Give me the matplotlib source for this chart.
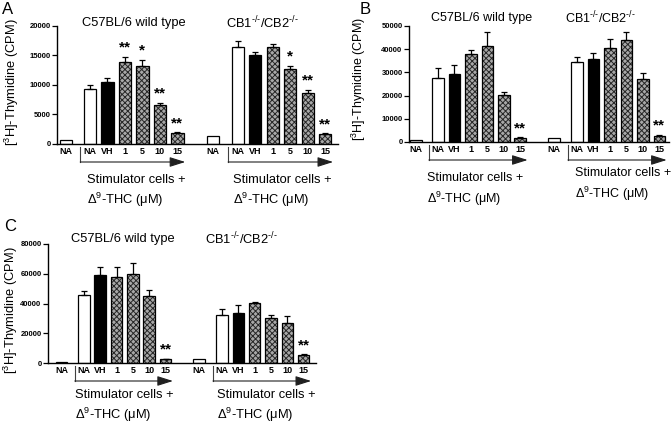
import matplotlib.pyplot as plt
import matplotlib.transforms as mtransforms
import numpy as np

plt.rcParams['font.family'] = 'Liberation Sans'
plt.rcParams['mathtext.fontset'] = 'custom'
plt.rcParams['mathtext.rm'] = 'Liberation Sans'
plt.rcParams['mathtext.it'] = 'Liberation Sans:italic'
plt.rcParams['mathtext.bf'] = 'Liberation Sans:bold'
plt.rcParams['hatch.linewidth'] = 0.7

# one group = unstimulated NA, then stimulator cells + NA, VH, 1, 5, 10, 15 uM THC
tick_labels = ['NA', 'NA', 'VH', '1', '5', '10', '15']
bar_kind = ['na', 'na', 'vh', 'thc', 'thc', 'thc', 'thc']

# panel A
a_wt = [700, 9250, 10500, 13850, 13250, 6600, 1800]
a_wt_err = [0, 750, 650, 900, 1000, 400, 150]
a_wt_stars = ['', '', '', '**', '*', '**', '**']
a_ko = [1350, 16400, 15050, 16400, 12750, 8700, 1700]
a_ko_err = [0, 1100, 500, 500, 500, 500, 100]
a_ko_stars = ['', '', '', '', '*', '**', '**']

# panel B
b_wt = [1000, 27800, 29500, 37750, 41350, 20150, 1700]
b_wt_err = [0, 4300, 3900, 1750, 5900, 1450, 300]
b_wt_stars = ['', '', '', '', '', '', '**']
b_ko = [1700, 34600, 35900, 40650, 43800, 26950, 2750]
b_ko_err = [0, 2000, 2450, 3750, 3450, 3000, 250]
b_ko_stars = ['', '', '', '', '', '', '**']

# panel C
c_wt = [700, 45700, 58900, 58000, 60000, 45250, 2450]
c_wt_err = [0, 2900, 5850, 6300, 7200, 3750, 450]
c_wt_stars = ['', '', '', '', '', '', '**']
c_ko = [2450, 32250, 33850, 40550, 30050, 26650, 5600]
c_ko_err = [0, 3800, 5150, 650, 2000, 4700, 400]
c_ko_stars = ['', '', '', '', '', '', '**']

W, H = 672, 424
fig = plt.figure(figsize=(W / 100, H / 100), dpi=100)


def px_axes(left, right, top, bottom):
    return fig.add_axes([left / W, 1 - bottom / H, (right - left) / W, (bottom - top) / H])


def fig_text(x, y, s, **kw):
    fig.text(x / W, 1 - y / H, s, **kw)


wt_pos = np.r_[0, 1.35 + np.arange(6)]
ko_pos = np.r_[8.4, 9.8 + np.arange(6)]
bw = 0.7

panels = [
    dict(letter='A', letter_xy=(2, 9), box=(57, 338, 26, 144), xlim=(-0.53, 15.53),
         ymax=20000, ystep=5000, fs=9.3,
         groups=[(a_wt, a_wt_err, a_wt_stars), (a_ko, a_ko_err, a_ko_stars)],
         titles=[(134, 22.7), (262, 22.7)], ylab=(12, 82),
         stim=[(87, 180, 200), (233, 180, 200)]),
    dict(letter='B', letter_xy=(360, 9), box=(409, 669, 26, 142), xlim=(-0.41, 15.39),
         ymax=50000, ystep=10000, fs=9.0,
         groups=[(b_wt, b_wt_err, b_wt_stars), (b_ko, b_ko_err, b_ko_stars)],
         titles=[(481.7, 18), (600, 18)], ylab=(359, 79),
         stim=[(427, 178, 199), (575, 173, 194)]),
    dict(letter='C', letter_xy=(4, 226), box=(48, 316, 244, 363), xlim=(-0.84, 15.55),
         ymax=80000, ystep=20000, fs=9.3,
         groups=[(c_wt, c_wt_err, c_wt_stars), (c_ko, c_ko_err, c_ko_stars)],
         titles=[(122.5, 239), (241.7, 239)], ylab=(11, 310),
         stim=[(75, 395, 415), (217, 395, 415)]),
]

for p in panels:
    left, right, top, bottom = p['box']
    ah = bottom - top
    fs = p['fs']
    ax = px_axes(left, right, top, bottom)
    trans = mtransforms.blended_transform_factory(ax.transData, ax.transAxes)

    for pos, (vals, errs, stars) in zip([wt_pos, ko_pos], p['groups']):
        for x, v, e, s, kind in zip(pos, vals, errs, stars, bar_kind):
            if kind == 'na':
                ax.bar(x, v, bw, color='white', edgecolor='black', lw=0.9, zorder=2)
            elif kind == 'vh':
                ax.bar(x, v, bw, color='black', edgecolor='black', lw=0.9, zorder=2)
            else:
                ax.bar(x, v, bw, color='#a8a8a8', edgecolor='#262626', hatch='xxxxxx', lw=0, zorder=2)
                ax.bar(x, v, bw, fill=False, edgecolor='black', lw=0.9, zorder=3)
            if e > 0:
                ax.errorbar(x, v, yerr=[[0], [e]], fmt='none', ecolor='black',
                            elinewidth=0.9, capsize=2.3, capthick=0.9, zorder=4)
            if s:
                ax.annotate(s, (x, v + e), xytext=(0, 1.5), textcoords='offset points',
                            ha='center', va='bottom', fontsize=11, fontweight='bold')

        # bracket arrow under the stimulated bars
        xs, xe = pos[1] - 0.55, pos[6] + 0.45
        y0, y1 = -3 / ah, -18 / ah
        ax.plot([xs, xs], [y0, y1], transform=trans, color='#404040', lw=0.8, clip_on=False)
        ax.annotate('', xy=(xe, y1), xytext=(xs, y1), xycoords=trans, textcoords=trans,
                    arrowprops=dict(arrowstyle='-|>,head_length=0.95,head_width=0.3',
                                    color='#202020', lw=0.8, shrinkA=0, shrinkB=0))

    ax.set_xlim(*p['xlim'])
    ax.set_ylim(0, p['ymax'])
    ax.set_yticks(np.arange(0, p['ymax'] + 1, p['ystep']))
    ax.set_xticks(np.r_[wt_pos, ko_pos], tick_labels * 2)
    ax.tick_params(axis='x', length=0, pad=2, labelsize=6.5)
    ax.tick_params(axis='y', length=3.6, width=0.9, pad=1, labelsize=5.5)
    for lab in ax.get_xticklabels() + ax.get_yticklabels():
        lab.set_fontweight('bold')
    for side in ['top', 'right']:
        ax.spines[side].set_visible(False)
    for side in ['left', 'bottom']:
        ax.spines[side].set_linewidth(1.0)

    fig_text(*p['letter_xy'], p['letter'], fontsize=12, ha='left', va='center')
    (tx1, ty1), (tx2, ty2) = p['titles']
    fig_text(tx1, ty1, 'C57BL/6 wild type', fontsize=fs, ha='center', va='center')
    fig_text(tx2, ty2, r'CB1$^{\text{-/-}}$/CB2$^{\text{-/-}}$', fontsize=fs,
             ha='center', va='center')
    fig_text(*p['ylab'], '[$^{3}$H]-Thymidine (CPM)', fontsize=fs, rotation=90,
             ha='center', va='center')
    for sx, sy1, sy2 in p['stim']:
        fig_text(sx, sy1, 'Stimulator cells +', fontsize=fs, ha='left', va='center')
        fig_text(sx, sy2, '\u0394$^{9}$-THC (\u03bcM)', fontsize=fs, ha='left', va='center')

plt.savefig('out.png', dpi=100)
plt.close()
